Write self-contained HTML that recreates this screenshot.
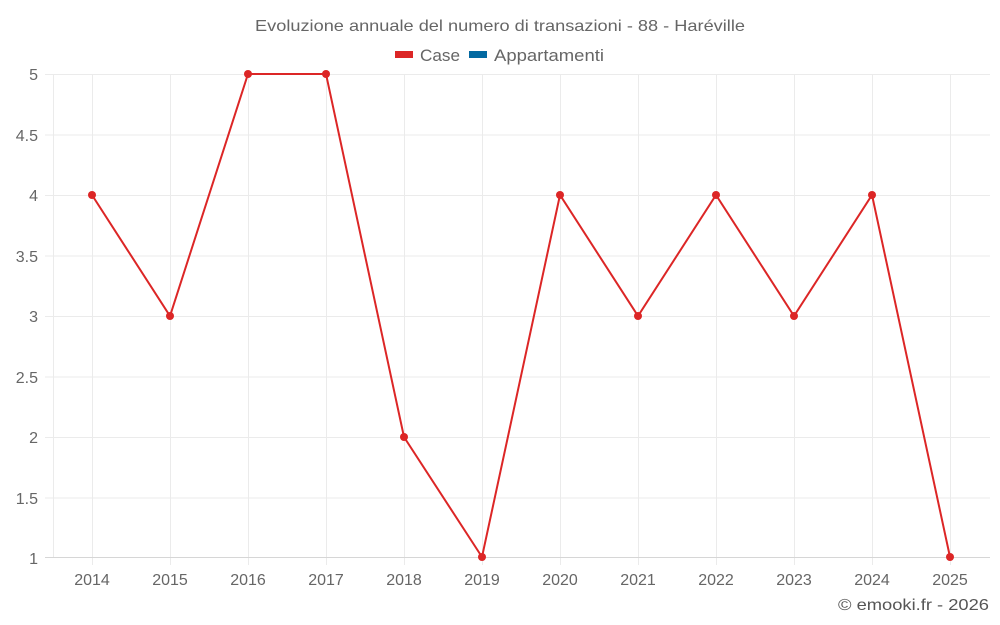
<!DOCTYPE html>
<html><head><meta charset="utf-8"><style>
html,body{margin:0;padding:0;background:#fff;}
svg{display:block;font-family:"Liberation Sans",sans-serif;}
</style></head><body>
<svg width="1000" height="625" viewBox="0 0 1000 625">
<text x="255" y="31" font-size="16" fill="#666" textLength="490" lengthAdjust="spacingAndGlyphs">Evoluzione annuale del numero di transazioni - 88 - Haréville</text>
<rect x="395" y="51" width="18" height="7" fill="#dc2626"/>
<text x="420" y="61" font-size="17" fill="#666" textLength="40" lengthAdjust="spacingAndGlyphs">Case</text>
<rect x="469" y="51" width="18" height="7" fill="#0369a1"/>
<text x="494" y="61" font-size="17" fill="#666" textLength="110" lengthAdjust="spacingAndGlyphs">Appartamenti</text>
<g stroke="#ebebeb" stroke-width="1">
<line x1="45" y1="74.5" x2="990" y2="74.5"/>
<line x1="45" y1="135" x2="990" y2="135"/>
<line x1="45" y1="195.5" x2="990" y2="195.5"/>
<line x1="45" y1="256" x2="990" y2="256"/>
<line x1="45" y1="316.5" x2="990" y2="316.5"/>
<line x1="45" y1="377" x2="990" y2="377"/>
<line x1="45" y1="437.5" x2="990" y2="437.5"/>
<line x1="45" y1="498" x2="990" y2="498"/>
<line x1="53.5" y1="74" x2="53.5" y2="557"/>
<line x1="92.5" y1="74" x2="92.5" y2="565"/>
<line x1="170.5" y1="74" x2="170.5" y2="565"/>
<line x1="248.5" y1="74" x2="248.5" y2="565"/>
<line x1="326.5" y1="74" x2="326.5" y2="565"/>
<line x1="404.5" y1="74" x2="404.5" y2="565"/>
<line x1="482.5" y1="74" x2="482.5" y2="565"/>
<line x1="560.5" y1="74" x2="560.5" y2="565"/>
<line x1="638.5" y1="74" x2="638.5" y2="565"/>
<line x1="716.5" y1="74" x2="716.5" y2="565"/>
<line x1="794.5" y1="74" x2="794.5" y2="565"/>
<line x1="872.5" y1="74" x2="872.5" y2="565"/>
<line x1="950.5" y1="74" x2="950.5" y2="565"/>
</g>
<line x1="45" y1="557.5" x2="990" y2="557.5" stroke="#d6d6d6"/>
<g font-size="16" fill="#666" text-anchor="end">
<text x="38" y="80">5</text><text x="38" y="141">4.5</text><text x="38" y="201">4</text>
<text x="38" y="262">3.5</text><text x="38" y="322">3</text><text x="38" y="383">2.5</text>
<text x="38" y="443">2</text><text x="38" y="504">1.5</text><text x="38" y="564">1</text>
</g>
<g font-size="16" fill="#666" text-anchor="middle">
<text x="92" y="585">2014</text><text x="170" y="585">2015</text><text x="248" y="585">2016</text>
<text x="326" y="585">2017</text><text x="404" y="585">2018</text><text x="482" y="585">2019</text>
<text x="560" y="585">2020</text><text x="638" y="585">2021</text><text x="716" y="585">2022</text>
<text x="794" y="585">2023</text><text x="872" y="585">2024</text><text x="950" y="585">2025</text>
</g>
<polyline fill="none" stroke="#dc2626" stroke-width="2" points="92,195 170,316 248,74 326,74 404,437 482,557 560,195 638,316 716,195 794,316 872,195 950,557"/>
<g fill="#dc2626">
<circle cx="92" cy="195" r="4"/><circle cx="170" cy="316" r="4"/><circle cx="248" cy="74" r="4"/>
<circle cx="326" cy="74" r="4"/><circle cx="404" cy="437" r="4"/><circle cx="482" cy="557" r="4"/>
<circle cx="560" cy="195" r="4"/><circle cx="638" cy="316" r="4"/><circle cx="716" cy="195" r="4"/>
<circle cx="794" cy="316" r="4"/><circle cx="872" cy="195" r="4"/><circle cx="950" cy="557" r="4"/>
</g>
<text x="838" y="610" font-size="16" fill="#555" textLength="151" lengthAdjust="spacingAndGlyphs">© emooki.fr - 2026</text>
</svg>
</body></html>
